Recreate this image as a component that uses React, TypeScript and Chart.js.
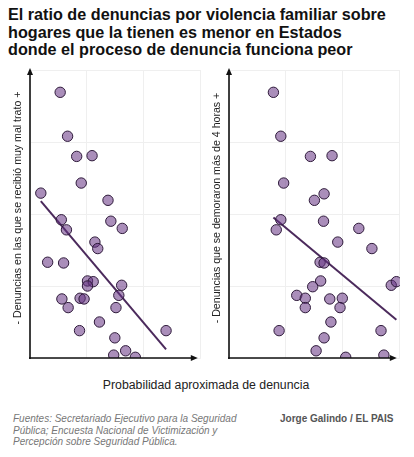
import React, { useEffect, useRef } from "react";
import { Chart, registerables } from "chart.js";

Chart.register(...registerables);

// Panel 1: x = probabilidad aproximada de denuncia, y = denuncias con muy mal trato
const leftX = [0.53, 0.66, 0.82, 1.09, 0.9, 0.19, 1.37, 0.55, 0.64, 1.42, 1.62, 1.14, 1.19, 0.31, 0.59, 1.01, 1.11, 1.01, 1.61, 1.56, 0.56, 0.88, 0.95, 0.67, 1.51, 1.22, 0.87, 2.39, 1.49, 1.68, 1.47, 1.85];
const leftY = [3.69, 3.08, 2.8, 2.81, 2.43, 2.29, 2.19, 1.92, 1.78, 1.9, 1.8, 1.61, 1.52, 1.33, 1.32, 1.07, 1.06, 1.0, 1.01, 0.87, 0.82, 0.83, 0.82, 0.7, 0.7, 0.5, 0.38, 0.38, 0.28, 0.1, 0.04, 0.01];
const leftTrendX = [0.19, 2.39];
const leftTrendY = [2.18, 0.12];

// Panel 2: y = denuncias que se demoraron más de 4 horas
const rightX = [0.78, 0.91, 1.43, 1.81, 0.96, 1.67, 1.5, 0.91, 0.83, 1.66, 2.28, 1.91, 2.51, 1.6, 1.67, 1.61, 1.47, 2.85, 2.94, 1.19, 1.34, 1.77, 1.99, 1.34, 1.95, 1.79, 0.88, 2.67, 1.67, 1.53, 2.72, 2.05];
const rightY = [3.69, 3.08, 2.8, 2.81, 2.43, 2.28, 2.19, 1.92, 1.78, 1.9, 1.8, 1.61, 1.52, 1.33, 1.32, 1.07, 0.99, 1.01, 1.06, 0.87, 0.83, 0.82, 0.83, 0.7, 0.7, 0.5, 0.38, 0.38, 0.28, 0.1, 0.04, 0.01];
const rightTrendX = [0.78, 2.94];
const rightTrendY = [1.95, 0.53];

const xTicks = [0, 1, 2, 3];
const yTicks = [0, 1, 2, 3, 4];

const title = [
  "El ratio de denuncias por violencia familiar sobre",
  "hogares que la tienen es menor en Estados",
  "donde el proceso de denuncia funciona peor",
];
const yTitles = [
  "- Denuncias en las que se recibió muy mal trato +",
  "- Denuncias que se demoraron más de 4 horas +",
];
const xTitle = "Probabilidad aproximada de denuncia";
const sourceLines = [
  "Fuentes: Secretariado Ejecutivo para la Seguridad",
  "Pública; Encuesta Nacional de Victimización y",
  "Percepción sobre Seguridad Pública.",
];
const credit = "Jorge Galindo / EL PAIS";

const FONT = "'Liberation Sans', Arial, sans-serif";

function Panel({ xs, ys, tx, ty, yTitle, left }: any) {
  const ref = useRef<HTMLCanvasElement>(null);
  useEffect(() => {
    const axesPlugin = {
      id: "axesArrows",
      afterDraw(chart: any) {
        const { ctx, chartArea } = chart;
        const xs0 = chart.scales.x.getPixelForValue(0);
        const ys0 = chart.scales.y.getPixelForValue(0);
        ctx.save();
        ctx.strokeStyle = "#111";
        ctx.fillStyle = "#111";
        ctx.lineWidth = 1.6;
        // y axis
        ctx.beginPath();
        ctx.moveTo(xs0, ys0 + 1);
        ctx.lineTo(xs0, chartArea.top + 2);
        ctx.stroke();
        ctx.beginPath();
        ctx.moveTo(xs0, chartArea.top - 2);
        ctx.lineTo(xs0 - 3, chartArea.top + 5);
        ctx.lineTo(xs0 + 3, chartArea.top + 5);
        ctx.closePath();
        ctx.fill();
        // x axis
        const xr = chartArea.right - 3;
        ctx.beginPath();
        ctx.moveTo(xs0 - 1, ys0);
        ctx.lineTo(xr - 4, ys0);
        ctx.stroke();
        ctx.beginPath();
        ctx.moveTo(xr, ys0);
        ctx.lineTo(xr - 7, ys0 - 3);
        ctx.lineTo(xr - 7, ys0 + 3);
        ctx.closePath();
        ctx.fill();
        // y title
        ctx.translate(chartArea.left - 12, (chartArea.top + chartArea.bottom) / 2 - 6);
        ctx.rotate(-Math.PI / 2);
        ctx.font = `10.6px ${FONT}`;
        ctx.fillStyle = "#222";
        ctx.textAlign = "center";
        ctx.textBaseline = "middle";
        ctx.fillText(yTitle, 0, 0);
        ctx.restore();
      },
    };
    const chart = new Chart(ref.current!, {
      type: "scatter",
      data: {
        datasets: [
          {
            type: "line",
            data: tx.map((x: number, i: number) => ({ x, y: ty[i] })),
            borderColor: "#4b2a5c",
            borderWidth: 2,
            pointRadius: 0,
            fill: false,
            order: 2,
          } as any,
          {
            data: xs.map((x: number, i: number) => ({ x, y: ys[i] })),
            backgroundColor: "rgba(100,50,130,0.55)",
            borderColor: "#2e1a3a",
            borderWidth: 1,
            pointRadius: 5.2,
            order: 1,
          },
        ],
      },
      options: {
        responsive: false,
        animation: false,
        events: [],
        layout: { padding: { left: 0, top: 10, right: 6, bottom: 12 } },
        plugins: { legend: { display: false }, tooltip: { enabled: false } },
        scales: {
          x: {
            type: "linear",
            min: xTicks[0],
            max: xTicks[xTicks.length - 1],
            afterBuildTicks: (s: any) => { s.ticks = xTicks.map((v) => ({ value: v })); },
            ticks: { display: false },
            border: { display: false },
            grid: { color: "#efefef", lineWidth: 1, drawTicks: false },
            afterFit: (s: any) => { s.height = 0; },
          },
          y: {
            type: "linear",
            min: yTicks[0],
            max: yTicks[yTicks.length - 1],
            afterBuildTicks: (s: any) => { s.ticks = yTicks.map((v) => ({ value: v })); },
            ticks: { display: false },
            border: { display: false },
            grid: { color: "#efefef", lineWidth: 1, drawTicks: false },
            afterFit: (s: any) => { s.width = 30; },
          },
        },
      },
      plugins: [axesPlugin],
    } as any);
    return () => chart.destroy();
  }, []);
  return (
    <canvas
      ref={ref}
      width={207}
      height={310}
      style={{ position: "absolute", left, top: 60, width: 207, height: 310 }}
    />
  );
}

export default function App() {
  return (
    <div style={{ position: "absolute", left: 0, top: 0, width: 414, height: 457, background: "#fff", overflow: "hidden", fontFamily: FONT }}>
      <div style={{ position: "absolute", left: 8, top: 6, fontSize: 16.2, fontWeight: 700, lineHeight: "17.7px", color: "#111", whiteSpace: "nowrap" }}>
        {title.map((t, i) => <div key={i}>{t}</div>)}
      </div>
      <Panel xs={leftX} ys={leftY} tx={leftTrendX} ty={leftTrendY} yTitle={yTitles[0]} left={0} />
      <Panel xs={rightX} ys={rightY} tx={rightTrendX} ty={rightTrendY} yTitle={yTitles[1]} left={199} />
      <div style={{ position: "absolute", left: 0, width: 412, top: 378, textAlign: "center", fontSize: 12.3, color: "#222" }}>{xTitle}</div>
      <div style={{ position: "absolute", left: 13, top: 413, fontSize: 10, fontStyle: "italic", lineHeight: "11.6px", color: "#777", whiteSpace: "nowrap" }}>
        {sourceLines.map((t, i) => <div key={i}>{t}</div>)}
      </div>
      <div style={{ position: "absolute", left: 280, top: 413, fontSize: 10, fontWeight: 700, lineHeight: "11.6px", color: "#555", whiteSpace: "nowrap" }}>{credit}</div>
    </div>
  );
}
